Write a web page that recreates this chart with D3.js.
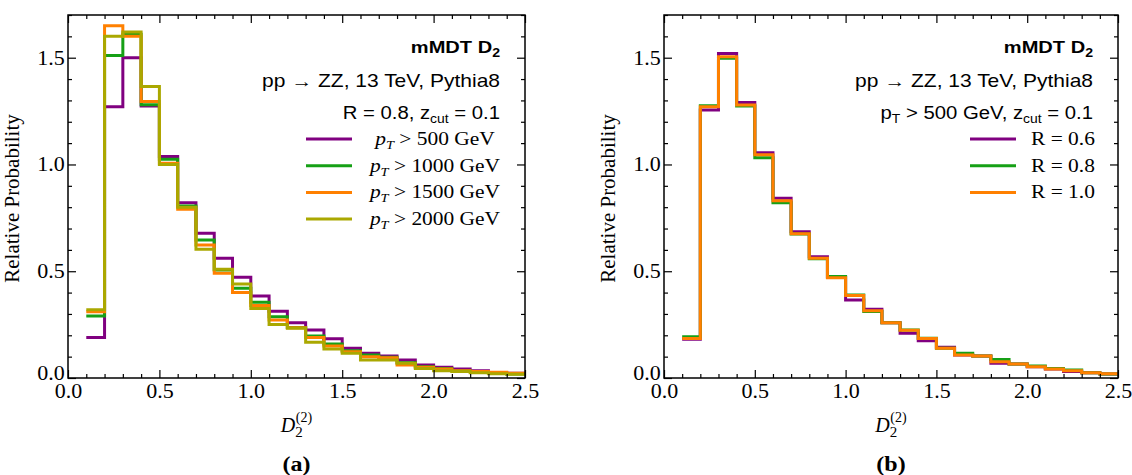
<!DOCTYPE html>
<html lang="en">
<head>
<meta charset="UTF-8">
<title>mMDT D2</title>
<style>
  * { margin: 0; padding: 0; }
  body { background: #fff; }
</style>
</head>
<body>
<svg></svg>
<script src="https://cdn.jsdelivr.net/npm/d3@7/dist/d3.min.js"></script>
<script>
// bin edges of D2^(2), width 0.1
const edges = [0.1, 0.2, 0.3, 0.4, 0.5, 0.6, 0.7, 0.8, 0.9, 1.0, 1.1, 1.2, 1.3,
  1.4, 1.5, 1.6, 1.7, 1.8, 1.9, 2.0, 2.1, 2.2, 2.3, 2.4, 2.5]

// (a) R = 0.8, different pT cuts
const ptLabels = ['500', '1000', '1500', '2000']
const pt500 = [0.19, 1.27, 1.50, 1.274, 1.037, 0.821, 0.678, 0.561, 0.472, 0.384, 0.313, 0.259,
  0.225, 0.184, 0.139, 0.116, 0.103, 0.084, 0.061, 0.050, 0.042, 0.034, 0.025, 0.022]
const pt1000 = [0.29, 1.51, 1.61, 1.28, 1.024, 0.806, 0.646, 0.506, 0.42, 0.355, 0.287, 0.237,
  0.197, 0.159, 0.128, 0.108, 0.097, 0.072, 0.053, 0.045, 0.034, 0.030, 0.022, 0.019]
const pt1500 = [0.31, 1.65, 1.60, 1.295, 1.006, 0.79, 0.623, 0.49, 0.40, 0.339, 0.272, 0.235,
  0.19, 0.15, 0.123, 0.10, 0.095, 0.061, 0.050, 0.042, 0.034, 0.030, 0.027, 0.022]
const pt2000 = [0.32, 1.60, 1.62, 1.365, 1.0, 0.80, 0.603, 0.509, 0.44, 0.326, 0.25, 0.233,
  0.167, 0.136, 0.116, 0.084, 0.084, 0.069, 0.045, 0.034, 0.030, 0.025, 0.020, 0.017]

// (b) pT > 500 GeV, different R
const rLabels = ['0.6', '0.8', '1.0']
const r06 = [0.181, 1.255, 1.52, 1.29, 1.055, 0.842, 0.685, 0.568, 0.472, 0.365, 0.322, 0.259,
  0.209, 0.175, 0.144, 0.108, 0.103, 0.069, 0.066, 0.053, 0.042, 0.030, 0.025, 0.019]
const r08 = [0.193, 1.275, 1.497, 1.274, 1.032, 0.821, 0.674, 0.559, 0.475, 0.389, 0.311, 0.259,
  0.225, 0.186, 0.139, 0.116, 0.103, 0.087, 0.066, 0.056, 0.044, 0.037, 0.025, 0.019]
const r10 = [0.185, 1.27, 1.505, 1.279, 1.045, 0.83, 0.675, 0.561, 0.47, 0.386, 0.315, 0.259,
  0.224, 0.185, 0.139, 0.108, 0.103, 0.076, 0.065, 0.053, 0.042, 0.034, 0.025, 0.020]

const xTicks = [0, 0.5, 1.0, 1.5, 2.0, 2.5]
const yTicks = [0, 0.5, 1.0, 1.5]

const colors = ['#800080', '#16a016', '#ff8000', '#aaa800']
const serif = "'Liberation Serif', 'Times New Roman', serif"
const sans = "'Liberation Sans', Arial, sans-serif"

const svg = d3.select('svg').attr('width', 1132).attr('height', 475)

// text placed at (x, y) and widened a bit, the figure's fonts run wide
function label(g, x, y, anchor, sx, family, size) {
  return g.append('text')
    .attr('transform', `translate(${x},${y}) scale(${sx},1)`)
    .attr('text-anchor', anchor)
    .style('font-family', family).style('font-size', size + 'px')
    .attr('fill', '#000')
}

function drawPanel(opt) {
  const x = d3.scaleLinear().domain([0, 2.5]).range([opt.left, opt.right])
  const y = d3.scaleLinear().domain([0, 1.7]).range([378, 15])
  const g = svg.append('g')

  // histograms as step lines
  const line = d3.line().x(d => x(d[0])).y(d => y(d[1])).curve(d3.curveStepAfter)
  opt.series.forEach((s, i) => {
    const pts = edges.map((e, j) => [e, s[Math.min(j, s.length - 1)]])
    g.append('path').datum(pts)
      .attr('d', line)
      .attr('fill', 'none')
      .attr('stroke', colors[i])
      .attr('stroke-width', 3)
  })

  // ticks on all four sides, pointing inward
  const minorX = d3.range(0, 2.55, 0.1).filter(v => Math.abs(v * 2 - Math.round(v * 2)) > 1e-6)
  const minorY = d3.range(0, 1.75, 0.1).filter(v => Math.abs(v * 2 - Math.round(v * 2)) > 1e-6)
  const fmt = d3.format('.1f')
  const axes = [
    [d3.axisBottom(x), `translate(0,${y(0)})`, xTicks, minorX, true, 6],
    [d3.axisTop(x), `translate(0,${y(1.7)})`, xTicks, minorX, false, 5],
    [d3.axisLeft(y), `translate(${x(0)},0)`, yTicks, minorY, true, 3],
    [d3.axisRight(y), `translate(${x(2.5)},0)`, yTicks, minorY, false, 5]
  ]
  axes.forEach(([ax, tr, major, minor, labels, pad]) => {
    const a = g.append('g').attr('transform', tr)
      .call(ax.tickValues(major).tickSize(-8).tickPadding(pad).tickFormat(labels ? fmt : ''))
    a.select('.domain').remove()
    a.selectAll('text')
      .style('font-family', serif).style('font-size', '20px').attr('fill', '#000')
      .attr('transform', 'scale(1.1,1)')
    const b = g.append('g').attr('transform', tr)
      .call(ax.tickValues(minor).tickSize(-4).tickFormat(''))
    b.select('.domain').remove()
    g.selectAll('.tick line').attr('stroke', '#000').attr('stroke-width', 1.2)
  })
  // lift the 0.0 of the y axis a little off the x labels
  g.selectAll('text').filter(function () {
    return this.parentNode.__data__ === 0 && d3.select(this).attr('dy') === '0.32em'
  }).attr('dy', '0.05em')

  // frame
  g.append('rect')
    .attr('x', x(0)).attr('y', y(1.7))
    .attr('width', x(2.5) - x(0)).attr('height', y(0) - y(1.7))
    .attr('fill', 'none').attr('stroke', '#000').attr('stroke-width', 1.5)

  // axis titles
  g.append('text')
    .attr('transform', `translate(${x(0) - 49},${(y(0) + y(1.7)) / 2 + 2}) rotate(-90) scale(1.05,1)`)
    .attr('text-anchor', 'middle')
    .style('font-family', serif).style('font-size', '20px')
    .text('Relative Probability')

  const xl = g.append('text')
    .attr('x', (x(0) + x(2.5)) / 2).attr('y', 432)
    .attr('text-anchor', 'middle')
    .style('font-family', serif).style('font-size', '20px')
  xl.append('tspan').style('font-style', 'italic').text('D')
  xl.append('tspan').style('font-size', '15px').attr('dy', 5).text('2')
  xl.append('tspan').style('font-size', '14px').attr('dx', -7).attr('dy', -15).text('(2)')

  label(g, (x(0) + x(2.5)) / 2, 471, 'middle', 1.2, serif, 20)
    .attr('font-weight', 'bold')
    .text(opt.tag)

  // header text
  const tx = opt.textRight
  label(g, tx, 53, 'end', 1.18, sans, 17).attr('font-weight', 'bold')
    .call(t => {
      t.append('tspan').text('mMDT D')
      t.append('tspan').style('font-size', '12px').attr('dy', 4).text('2')
    })
  label(g, tx, 87, 'end', 1.2, sans, 17.5)
    .text('pp \u2192 ZZ, 13 TeV, Pythia8')
  label(g, tx, 119, 'end', 1.16, sans, 17.5)
    .call(opt.cutLine)

  // legend
  opt.legend.forEach((lab, i) => {
    const ly = 139 + i * 26.7
    g.append('line')
      .attr('x1', opt.legX).attr('x2', opt.legX + 46)
      .attr('y1', ly).attr('y2', ly)
      .attr('stroke', colors[i]).attr('stroke-width', 3)
    const t = label(g, opt.legTextX, ly + 6, opt.legAnchor, 1.1, serif, 19.5)
    lab(t)
  })
}

drawPanel({
  left: 68, right: 525, tag: '(a)', textRight: 500,
  series: [pt500, pt1000, pt1500, pt2000],
  cutLine: t => {
    t.append('tspan').text('R = 0.8, z')
    t.append('tspan').style('font-size', '12px').attr('dy', 4).text('cut')
    t.append('tspan').attr('dy', -4).text(' = 0.1')
  },
  legX: 306, legTextX: 435, legAnchor: 'middle',
  legend: ptLabels.map(p => t => {
    t.append('tspan').style('font-style', 'italic').text('p')
    t.append('tspan').style('font-style', 'italic').style('font-size', '13px').attr('dy', 4).text('T')
    t.append('tspan').attr('dy', -4).text(' > ' + p + ' GeV')
  })
})

drawPanel({
  left: 664, right: 1118, tag: '(b)', textRight: 1093,
  series: [r06, r08, r10],
  cutLine: t => {
    t.append('tspan').text('p')
    t.append('tspan').style('font-size', '12px').attr('dy', 4).text('T')
    t.append('tspan').attr('dy', -4).text(' > 500 GeV, z')
    t.append('tspan').style('font-size', '12px').attr('dy', 4).text('cut')
    t.append('tspan').attr('dy', -4).text(' = 0.1')
  },
  legX: 970, legTextX: 1031, legAnchor: 'start',
  legend: rLabels.map(r => t => t.text('R = ' + r))
})
</script>
</body>
</html>
